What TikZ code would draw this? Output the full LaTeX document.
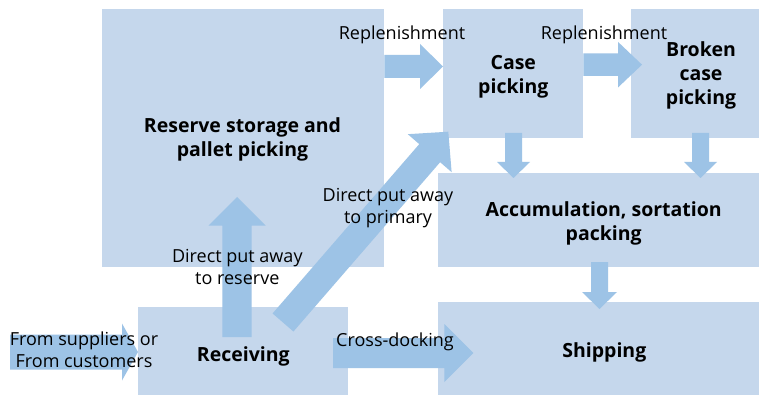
\documentclass[tikz,border=0pt]{standalone}
\usepackage{fontspec}
\setmainfont{Open Sans}
\usetikzlibrary{calc}

\definecolor{boxfill}{RGB}{197,215,236}
\definecolor{arrowfill}{RGB}{157,195,230}

\tikzset{
  stage/.style={fill=boxfill, draw=none, inner sep=0pt, anchor=north west},
  label/.style={anchor=base, inner sep=0pt, align=center,
    font=\fontsize{18}{22}\selectfont},
  title/.style={anchor=base, inner sep=0pt, align=center,
    font=\fontsize{19.5}{24}\selectfont\bfseries},
}

% Block arrow: #1 tail, #2 tip, #3 shaft half width,
% #4 head half width, #5 head length
\newcommand\blockarrow[5]{%
  \coordinate (ba-base) at ($(#2)!#5!(#1)$);
  \fill[arrowfill]
    ($(#1)!#3!90:(#2)$) -- ($(ba-base)!#3!90:(#2)$) --
    ($(ba-base)!#4!90:(#2)$) -- (#2) --
    ($(ba-base)!#4!-90:(#2)$) -- ($(ba-base)!#3!-90:(#2)$) --
    ($(#1)!#3!-90:(#2)$) -- cycle;
}

\begin{document}
\begin{tikzpicture}[x=1pt, y=-1pt]
  \clip (0,0) rectangle (759,395);
  \fill[white] (0,0) rectangle (759,395);

  % stages
  \node[stage, minimum width=282pt, minimum height=258pt] (reserve) at (102,9) {};
  \node[stage, minimum width=140pt, minimum height=129pt] (case) at (443,9) {};
  \node[stage, minimum width=140pt, minimum height=129pt] (broken) at (631,9) {};
  \node[stage, minimum width=333pt, minimum height=94pt] (accum) at (438,173) {};
  \node[stage, minimum width=333pt, minimum height=98pt] (ship) at (438,302) {};
  \node[stage, minimum width=210pt, minimum height=94pt] (recv) at (138,307) {};

  % arrow end points
  \coordinate (inT) at (10,352);    \coordinate (inH) at (recv.west |- 0,352);
  \coordinate (upT) at (237,337);   \coordinate (upH) at (237,197);
  \coordinate (dgT) at (283,322.5); \coordinate (dgH) at (448.3,131.7);
  \coordinate (r1T) at (reserve.east |- 0,66.5); \coordinate (r1H) at (case.west |- 0,66.5);
  \coordinate (r2T) at (case.east |- 0,64.7);    \coordinate (r2H) at (642,64.7);
  \coordinate (d1T) at (513.5,133); \coordinate (d1H) at (513.5,178);
  \coordinate (d2T) at (700.5,133); \coordinate (d2H) at (700.5,178);
  \coordinate (d3T) at (599.5,262); \coordinate (d3H) at (599.5,309);
  \coordinate (cdT) at (333,353);   \coordinate (cdH) at (473.3,353);

  % flows
  \blockarrow{inT}{inH}{17.5pt}{28.5pt}{16pt}
  \blockarrow{upT}{upH}{14.7pt}{28.5pt}{28.5pt}
  \blockarrow{dgT}{dgH}{13.8pt}{29pt}{28.4pt}
  \blockarrow{r1T}{r1H}{11.5pt}{22.5pt}{23pt}
  \blockarrow{r2T}{r2H}{11.3pt}{22.8pt}{24pt}
  \blockarrow{d1T}{d1H}{8.5pt}{16.5pt}{16pt}
  \blockarrow{d2T}{d2H}{8.5pt}{16.5pt}{16pt}
  \blockarrow{d3T}{d3H}{8.5pt}{17.5pt}{17pt}
  \blockarrow{cdT}{cdH}{15pt}{29pt}{29pt}

  % stage titles (anchored at the baseline of the last line)
  \node[title] (reserveT) at (242.5,156.7) {Reserve storage and\\pallet picking};
  \node[title] (caseT) at (513.3,93.3) {Case\\picking};
  \node[title] (brokenT) at (701,104.5) {Broken\\case\\picking};
  \node[title] (accumT) at (603.7,240.7) {Accumulation, sortation\\packing};
  \node[title] (shipT) at (604.3,357.3) {Shipping};
  \node[title] (recvT) at (243.3,361) {Receiving};

  % flow labels
  \node[label] (rep1) at (402,39.3) {Replenishment};
  \node[label] (rep2) at (604,39.3) {Replenishment};
  \node[label] (dprT) at (237.3,284.3) {Direct put away\\to reserve};
  \node[label] (dppT) at (388,223.3) {Direct put away\\to primary};
  \node[label] (inT-label) at (84,367.7) {From suppliers or\\From customers};
  \node[label] (cdT-label) at (395,346.7) {Cross-docking};
\end{tikzpicture}
\end{document}
